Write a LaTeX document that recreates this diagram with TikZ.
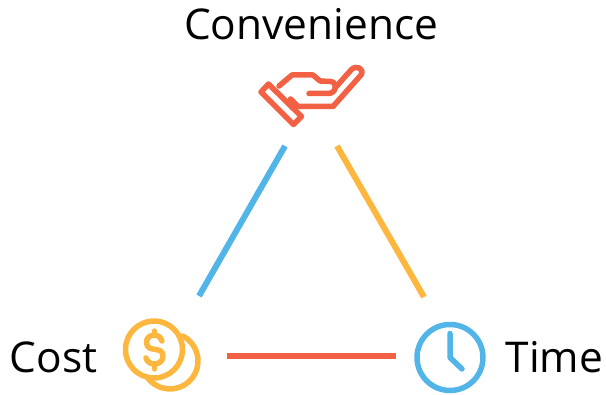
\documentclass[tikz,border=0pt]{standalone}
\usepackage{fontspec}
\setmainfont{Open Sans}
\definecolor{cblue}{HTML}{52B5E8}
\definecolor{corange}{HTML}{FDB73E}
\definecolor{cred}{HTML}{F26144}
\tikzset{
  lbl/.style={font=\fontsize{42.4}{50}\selectfont,text=black,inner sep=0pt},
  edge/.style={line width=6pt},
  icon/.style={line width=5.5pt,line cap=round,line join=round},
}
\begin{document}
\begin{tikzpicture}[x=1pt,y=-1pt]
\useasboundingbox (0,0) rectangle (606,395);
\node[lbl] (conv) at (311,24.5) {Convenience};
\node[lbl] (cost) at (53.5,357) {Cost};
\node[lbl] (time) at (554.5,357) {Time};
\coordinate (a1) at (285,146); \coordinate (a2) at (199,296);
\coordinate (b1) at (337,146); \coordinate (b2) at (424,297);
\coordinate (c1) at (227,356.5); \coordinate (c2) at (396,356.5);
\draw[edge,cblue] (a1) -- (a2);
\draw[edge,corange] (b1) -- (b2);
\draw[edge,cred] (c1) -- (c2);
% hand
\draw[icon,cred] (268.5,84) -- (301.5,116.5) -- (293.5,124.5) -- (261,92) -- cycle;
\draw[icon,cred] (279,86) -- (292,75) -- (313,75) -- (320,81) -- (331,81.5)
  .. controls (335,82) and (336,86) .. (335,88) -- (351,70)
  .. controls (356,64) and (365,69) .. (361,75) -- (333,106.5) -- (298,106.5) -- (290.5,99);
\draw[icon,cred] (309,93.5) -- (328,93.5) .. controls (332,93.5) and (335,91) .. (335,88);
% coins
\draw[icon,corange] (154,349.5) circle[radius=28.5];
\draw[icon,corange] (182.7,336) arc[start angle=63,end angle=-145,radius=28pt];
\draw[icon,corange] (154.5,331) -- (154.5,335);
\draw[icon,corange] (154.5,364) -- (154.5,369);
\draw[icon,corange] (162,341) .. controls (160,336) and (157,335) .. (154.5,335)
  .. controls (150,335) and (146.5,338) .. (146.5,342)
  .. controls (146.5,354) and (163,345) .. (163,356)
  .. controls (163,361) and (159,364) .. (154.5,364)
  .. controls (150,364) and (147,361.5) .. (146,358);
% clock
\draw[icon,cblue] (450,357.5) circle[radius=33];
\draw[icon,cblue] (450,333.5) -- (450,357.5) -- (462,369);
\end{tikzpicture}
\end{document}
